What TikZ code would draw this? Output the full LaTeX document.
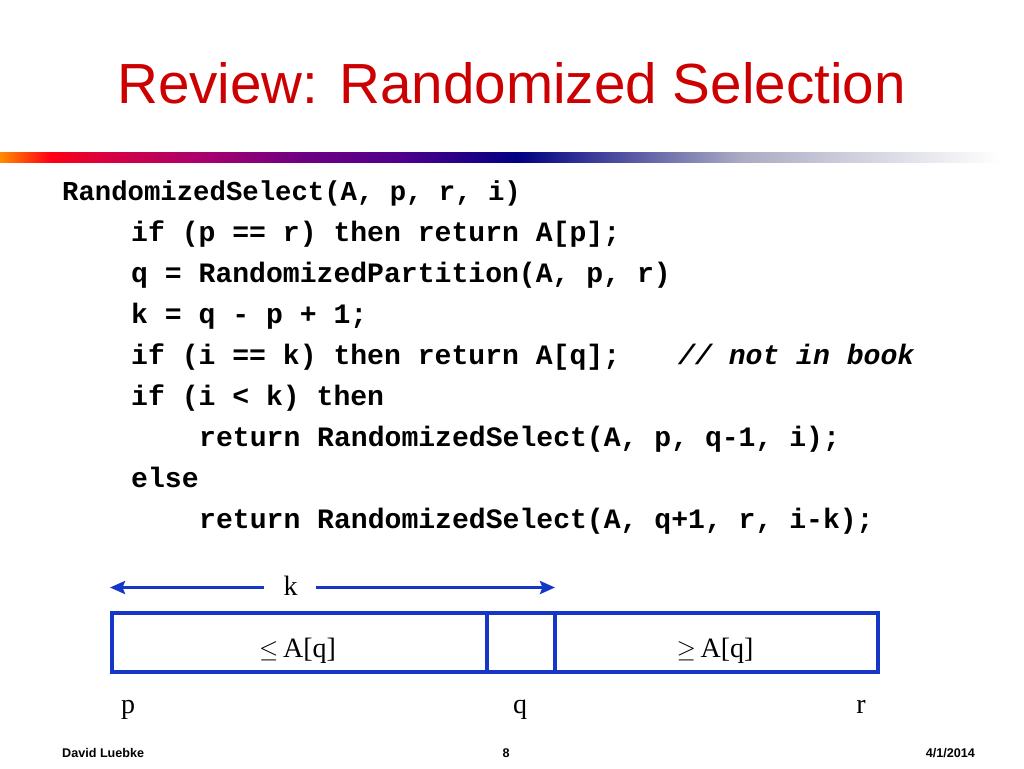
\documentclass[tikz,border=0pt]{standalone}
\usepackage{fontspec}
\setmainfont{Liberation Serif}
\newfontfamily\sansf{Liberation Sans}
\newfontfamily\monof{Liberation Mono}
\usetikzlibrary{arrows.meta}
\definecolor{titlered}{RGB}{204,0,0}
\definecolor{boxblue}{RGB}{20,55,200}
\definecolor{gorange}{RGB}{255,140,0}
\definecolor{gred}{RGB}{255,0,20}
\definecolor{gcrim}{RGB}{220,0,60}
\definecolor{gmag}{RGB}{170,0,110}
\definecolor{gpurp}{RGB}{110,0,130}
\definecolor{gviol}{RGB}{80,0,140}
\definecolor{gnavy}{RGB}{0,0,130}
\definecolor{ggray}{RGB}{170,170,195}
\tikzset{
  codeline/.style={anchor=base west, inner sep=0pt, font=\monof\bfseries\fontsize{28.1}{30}\selectfont},
  codefirst/.style={anchor=base west, inner sep=0pt, font=\monof\bfseries\fontsize{27.3}{30}\selectfont},
  codecomment/.style={anchor=base west, inner sep=0pt, font=\monof\bfseries\itshape\fontsize{28.1}{30}\selectfont},
  serif/.style={anchor=base, inner sep=0pt, font=\fontsize{28}{30}\selectfont},
  footer/.style={inner sep=0pt, font=\sansf\bfseries\fontsize{12.6}{14}\selectfont},
  bluebox/.style={draw=boxblue, line width=4pt, inner sep=0pt, outer sep=0pt, minimum height=59pt, anchor=north west},
  bluearrow/.style={draw=boxblue, line width=3.4pt, -{Stealth[length=15pt,width=13pt,inset=2.5pt]}}
}
\begin{document}
\begin{tikzpicture}[x=1pt,y=-1pt]
\useasboundingbox[fill=white] (0,0) rectangle (1024,768);
% title
\node[anchor=base, inner sep=0pt, text=titlered, font=\sansf\fontsize{56.6}{60}\selectfont] (title) at (511.5,103) {Review: Randomized Selection};
% gradient bar
\shade[left color=gorange, right color=gred] (0,152.3) rectangle (50,162);
\shade[left color=gred, right color=gcrim] (49.5,152.3) rectangle (100,162);
\shade[left color=gcrim, right color=gmag] (99.5,152.3) rectangle (200,162);
\shade[left color=gmag, right color=gpurp] (199.5,152.3) rectangle (300,162);
\shade[left color=gpurp, right color=gviol] (299.5,152.3) rectangle (400,162);
\shade[left color=gviol, right color=gnavy] (399.5,152.3) rectangle (517,162);
\shade[left color=gnavy, right color=ggray] (516.5,152.3) rectangle (740,162);
\shade[left color=ggray, right color=white] (739.5,152.3) rectangle (1000,162);
% code
\node[codefirst] (c1) at (62,200) {RandomizedSelect(A, p, r, i)};
\node[codeline] (c2) at (131,241) {if (p == r) then return A[p];};
\node[codeline] (c3) at (131,282) {q = RandomizedPartition(A, p, r)};
\node[codeline] (c4) at (131,323) {k = q - p + 1;};
\node[codeline] (c5) at (131,364) {if (i == k) then return A[q];};
\node[codecomment] (c5b) at (678,364) {// not in book};
\node[codeline] (c6) at (131,405) {if (i < k) then};
\node[codeline] (c7) at (199,446) {return RandomizedSelect(A, p, q-1, i);};
\node[codeline] (c8) at (131,487) {else};
\node[codeline] (c9) at (199,528) {return RandomizedSelect(A, q+1, r, i-k);};
% k arrows
\node[serif] (k) at (290.5,595) {k};
\coordinate (la) at (264,587.5);
\coordinate (lb) at (110,587.5);
\coordinate (ra) at (316,587.5);
\coordinate (rb) at (555,587.5);
\draw[bluearrow] (la) -- (lb);
\draw[bluearrow] (ra) -- (rb);
% boxes
\node[bluebox, minimum width=375.5pt] (b1) at (111.5,613) {};
\node[bluebox, minimum width=67.5pt] (b2) at (487,613) {};
\node[bluebox, minimum width=323.5pt] (b3) at (554.5,613) {};
\node[serif] (le) at (297.5,657.5) {$\leq$\,A[q]};
\node[serif] (ge) at (715,657.5) {$\geq$\,A[q]};
% indices
\node[serif] (p) at (128,713) {p};
\node[serif] (q) at (520,713) {q};
\node[serif] (r) at (861,713) {r};
% footer
\node[footer, anchor=base west] (f1) at (62,757) {David Luebke};
\node[footer, anchor=base] (f2) at (506,757) {8};
\node[footer, anchor=base east] (f3) at (975,757) {4/1/2014};
\end{tikzpicture}
\end{document}
